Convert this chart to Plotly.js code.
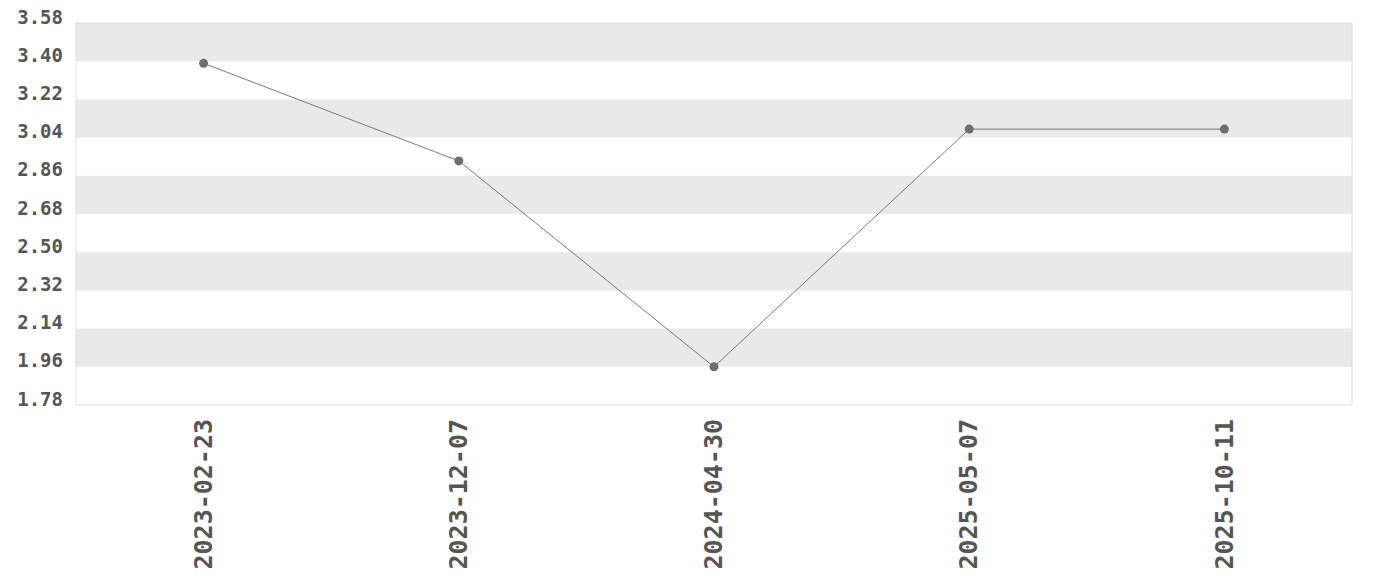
<!DOCTYPE html>
<html><head><meta charset="utf-8">
<script src="https://cdn.plot.ly/plotly-3.0.1.min.js"></script>
<style>html,body{margin:0;padding:0;background:#fff}</style>
</head><body>
<div id="chart" style="width:1380px;height:580px"></div>
<script>
const dates = ["2023-02-23","2023-12-07","2024-04-30","2025-05-07","2025-10-11"];
const values = [3.39, 2.93, 1.96, 3.08, 3.08];
const yTicks = [1.78,1.96,2.14,2.32,2.50,2.68,2.86,3.04,3.22,3.40,3.58];

const shapes = [];
for (let i = yTicks.length - 1; i > 0; i -= 2) {
  shapes.push({type:'rect', xref:'paper', yref:'y', x0:0, x1:1, y0:yTicks[i-1], y1:yTicks[i],
    fillcolor:'#e9e9e9', line:{width:0}, layer:'below'});
}
shapes.push({type:'rect', xref:'paper', yref:'paper', x0:0, x1:1, y0:0, y1:1,
  fillcolor:'rgba(0,0,0,0)', line:{color:'#dddddd', width:1}, layer:'above'});

const trace = {
  x: dates, y: values, type:'scatter', mode:'lines+markers',
  line:{color:'#7a7a7a', width:1}, marker:{color:'#6e6e6e', size:9}
};
const font = {family:'"DejaVu Sans Mono", monospace', color:'#555555'};
const layout = {
  width:1380, height:580,
  margin:{l:76, r:28, t:23, b:175},
  paper_bgcolor:'#ffffff', plot_bgcolor:'#ffffff',
  showlegend:false,
  shapes: shapes,
  xaxis:{type:'category', tickangle:-90, showgrid:false, zeroline:false, showline:false, ticks:'',
    ticklabelstandoff:8,
    tickfont:Object.assign({size:25, weight:'bold'}, font), range:[-0.5,4.5]},
  yaxis:{range:[1.78,3.58], tickmode:'array', tickvals:yTicks, ticktext:yTicks.map(v=>v.toFixed(2)),
    showgrid:false, zeroline:false, showline:false, ticks:'', ticklabelshift:-6, ticklabelstandoff:12,
    tickfont:Object.assign({size:19, weight:'bold'}, font)}
};
Plotly.newPlot('chart',[trace],layout,{displayModeBar:false});
</script>
</body></html>
